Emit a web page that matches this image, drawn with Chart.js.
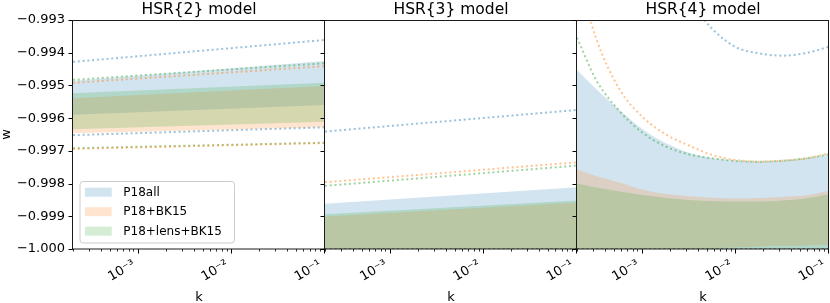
<!DOCTYPE html>
<html>
<head>
<meta charset="utf-8">
<script src="https://cdn.jsdelivr.net/npm/chart.js@4.4.1/dist/chart.umd.min.js"></script>
<style>
  html, body { margin: 0; padding: 0; background: #ffffff; }
  #wrap { position: relative; width: 830px; height: 303px; overflow: hidden; }
  #wrap canvas { position: absolute; left: 0; top: 0; }
</style>
</head>
<body>
<div id="wrap">
  <canvas id="c1" width="830" height="303"></canvas>
  <canvas id="c2" width="830" height="303"></canvas>
  <canvas id="c3" width="830" height="303"></canvas>
</div>
<script>
// ---------------- data ----------------
const seriesNames = ['P18all', 'P18+BK15', 'P18+lens+BK15'];
const seriesRGB = ['31,119,180', '255,127,14', '44,160,44'];
const panelTitles = ['HSR{2} model', 'HSR{3} model', 'HSR{4} model'];

const K_MIN = 1.97e-4, K_MAX = 0.1;
const W_MIN = -1.000, W_MAX = -0.993;

const yTickValues = [-1.000, -0.999, -0.998, -0.997, -0.996, -0.995, -0.994, -0.993];
const yTickLabels = ['\u22121.000', '\u22120.999', '\u22120.998', '\u22120.997', '\u22120.996', '\u22120.995', '\u22120.994', '\u22120.993'];
const xMajorTicks = [1e-3, 1e-2, 1e-1];
const xTickLabels = ['10\u207B\u00B3', '10\u207B\u00B2', '10\u207B\u00B9'];
const xMinorTicks = [2e-4, 3e-4, 4e-4, 5e-4, 6e-4, 7e-4, 8e-4, 9e-4,
                     2e-3, 3e-3, 4e-3, 5e-3, 6e-3, 7e-3, 8e-3, 9e-3,
                     2e-2, 3e-2, 4e-2, 5e-2, 6e-2, 7e-2, 8e-2, 9e-2];

// HSR{2} : straight lines in log k (values at both ends of the k range)
const kHsr2 = [1.97e-4, 0.1];
const hsr2AllLow   = [-0.99590, -0.99560];
const hsr2AllHigh  = [-0.99486, -0.99425];
const hsr2BkLow    = [-0.99646, -0.99628];
const hsr2BkHigh   = [-0.99539, -0.99502];
const hsr2LensLow  = [-0.99634, -0.99611];
const hsr2LensHigh = [-0.99524, -0.99492];
const hsr2AllDotLow   = [-0.99652, -0.99628];
const hsr2AllDotHigh  = [-0.99428, -0.99361];
const hsr2BkDotLow    = [-0.99694, -0.99676];
const hsr2BkDotHigh   = [-0.99492, -0.99441];
const hsr2LensDotLow  = [-0.99692, -0.99675];
const hsr2LensDotHigh = [-0.99483, -0.99432];

// HSR{3}
const kHsr3 = [1.97e-4, 0.1];
const hsr3AllLow   = [-1.000, -1.000];
const hsr3AllHigh  = [-0.99862, -0.99811];
const hsr3BkLow    = [-1.000, -1.000];
const hsr3BkHigh   = [-0.99901, -0.99858];
const hsr3LensLow  = [-1.000, -1.000];
const hsr3LensHigh = [-0.99894, -0.99852];
const hsr3AllDotLow   = [-1.000, -1.000];
const hsr3AllDotHigh  = [-0.99641, -0.99575];
const hsr3BkDotLow    = [-1.000, -1.000];
const hsr3BkDotHigh   = [-0.99796, -0.99735];
const hsr3LensDotLow  = [-1.000, -1.000];
const hsr3LensDotHigh = [-0.99807, -0.99745];

// HSR{4}
const kHsr4 = [1.97e-4, 3.16e-4, 5.62e-4, 1.0e-3, 1.78e-3, 3.16e-3, 5.62e-3, 1.0e-2, 1.78e-2, 3.16e-2, 5.62e-2, 1.0e-1];
const hsr4AllLow   = [-1.000, -1.000, -1.000, -1.000, -1.000, -1.000, -1.000, -1.000, -1.000, -1.000, -1.000, -1.000];
const hsr4AllHigh  = [-0.99453, -0.99511, -0.99575, -0.99634, -0.99677, -0.99706, -0.99722, -0.99730, -0.99733, -0.99730, -0.99723, -0.99713];
const hsr4BkLow    = [-1.000, -1.000, -1.000, -1.000, -1.000, -1.000, -0.99999, -0.99995, -0.99992, -0.99990, -0.99989, -0.99987];
const hsr4BkHigh   = [-0.99756, -0.99777, -0.99797, -0.99819, -0.99832, -0.99839, -0.99843, -0.99845, -0.99844, -0.99841, -0.99836, -0.99822];
const hsr4LensLow  = [-1.000, -1.000, -1.000, -1.000, -1.000, -1.000, -1.000, -1.000, -1.000, -1.000, -1.000, -1.000];
const hsr4LensHigh = [-0.99800, -0.99812, -0.99824, -0.99835, -0.99844, -0.99850, -0.99854, -0.99855, -0.99855, -0.99852, -0.99846, -0.99833];
const hsr4AllDotLow   = [-1.000, -1.000, -1.000, -1.000, -1.000, -1.000, -1.000, -1.000, -1.000, -1.000, -1.000, -1.000];
const hsr4AllDotHigh  = [-0.9858, -0.9872, -0.9888, -0.9902, -0.9914, -0.9924, -0.99328, -0.99383, -0.99402, -0.99409, -0.99401, -0.99382];
const hsr4BkDotLow    = [-1.000, -1.000, -1.000, -1.000, -1.000, -1.000, -1.000, -1.000, -1.000, -1.000, -1.000, -1.000];
const hsr4BkDotHigh   = [-0.9915, -0.99356, -0.99511, -0.99597, -0.99650, -0.99684, -0.99713, -0.99728, -0.99733, -0.99730, -0.99723, -0.99708];
const hsr4LensDotLow  = [-1.000, -1.000, -1.000, -1.000, -1.000, -1.000, -1.000, -1.000, -1.000, -1.000, -1.000, -1.000];
const hsr4LensDotHigh = [-0.99354, -0.99483, -0.99578, -0.99645, -0.99687, -0.99711, -0.99723, -0.99731, -0.99733, -0.99730, -0.99723, -0.99711];

// ---------------- helpers ----------------
const FONT = '"DejaVu Sans", "Liberation Sans", sans-serif';
function rgba(i, a) { return 'rgba(' + seriesRGB[i] + ',' + a + ')'; }
function pts(ks, ws) { return ks.map((k, i) => ({ x: k, y: ws[i] })); }

function panelDatasets(ks, bands, dots, smooth) {
  const mode = smooth ? 'monotone' : 'default';
  const ds = [];
  bands.forEach((b, s) => {
    ds.push({ label: seriesNames[s] + ' low', data: pts(ks, b[0]), borderColor: 'rgba(0,0,0,0)', borderWidth: 1,
              pointRadius: 0, fill: false, order: 30 - 10 * s, cubicInterpolationMode: mode });
    ds.push({ label: seriesNames[s], data: pts(ks, b[1]), borderColor: 'rgba(0,0,0,0)', borderWidth: 1,
              backgroundColor: rgba(s, 0.2), pointRadius: 0, fill: '-1', order: 30 - 10 * s, cubicInterpolationMode: mode });
  });
  dots.forEach((d, s) => {
    d.forEach(arr => {
      ds.push({ label: seriesNames[s] + ' 95%', data: pts(ks, arr), borderColor: rgba(s, 0.45), borderWidth: 2,
                borderDash: [2, 2.8], borderCapStyle: 'butt', pointRadius: 0, fill: false, order: 0,
                cubicInterpolationMode: mode });
    });
  });
  return ds;
}

const framePlugin = {
  id: 'frame',
  afterDraw(chart, args, opts) {
    const { ctx, chartArea: a } = chart;
    const x = chart.scales.x, y = chart.scales.y;
    ctx.save();
    ctx.strokeStyle = '#000';
    ctx.lineWidth = 1;
    ctx.beginPath();
    yTickValues.forEach(v => {
      const py = Math.round(y.getPixelForValue(v)) + 0.5;
      ctx.moveTo(a.left - 4.5, py); ctx.lineTo(a.left, py);
    });
    xMajorTicks.forEach(v => {
      const px = Math.round(x.getPixelForValue(v)) - 0.5;
      ctx.moveTo(px, a.bottom); ctx.lineTo(px, a.bottom + 4.5);
    });
    ctx.stroke();
    ctx.lineWidth = 0.8;
    ctx.beginPath();
    xMinorTicks.forEach(v => {
      const px = Math.round(x.getPixelForValue(v)) - 0.5;
      ctx.moveTo(px, a.bottom); ctx.lineTo(px, a.bottom + 2.6);
    });
    ctx.stroke();
    ctx.lineWidth = 1;
    ctx.strokeStyle = '#1a1a1a';
    ctx.strokeRect(a.left - 0.5, a.top + 0.5, a.right - a.left, a.bottom - a.top - 0.5);
    ctx.fillStyle = '#000';
    ctx.font = '15.5px ' + FONT;
    ctx.textAlign = 'center';
    ctx.textBaseline = 'alphabetic';
    ctx.fillText(opts.title, (a.left + a.right) / 2, a.top - 6.5);
    ctx.restore();
  }
};

const legendPlugin = {
  id: 'boxLegend',
  afterDraw(chart, args, opts) {
    if (!opts.show) return;
    const { ctx, chartArea: a } = chart;
    const x0 = a.left + 7, y0 = a.bottom - 67.5, w = 154.5, h = 61.5, r = 3;
    ctx.save();
    ctx.beginPath();
    ctx.moveTo(x0 + r, y0);
    ctx.arcTo(x0 + w, y0, x0 + w, y0 + h, r);
    ctx.arcTo(x0 + w, y0 + h, x0, y0 + h, r);
    ctx.arcTo(x0, y0 + h, x0, y0, r);
    ctx.arcTo(x0, y0, x0 + w, y0, r);
    ctx.closePath();
    ctx.fillStyle = 'rgba(255,255,255,0.8)';
    ctx.fill();
    ctx.strokeStyle = '#cccccc';
    ctx.lineWidth = 1;
    ctx.stroke();
    ctx.font = '12px ' + FONT;
    ctx.textAlign = 'left';
    ctx.textBaseline = 'middle';
    seriesNames.forEach((name, i) => {
      const cy = y0 + 10.7 + i * 19.5;
      ctx.fillStyle = rgba(i, 0.2);
      ctx.fillRect(x0 + 5, cy - 4.5, 26.7, 9);
      ctx.fillStyle = '#000';
      ctx.fillText(name, x0 + 43.3, cy + 0.5);
    });
    ctx.restore();
  }
};

function makePanel(id, idx, ks, bands, dots, smooth, padLeft, padRight, showY) {
  return new Chart(document.getElementById(id), {
    type: 'line',
    data: { datasets: panelDatasets(ks, bands, dots, smooth) },
    plugins: [framePlugin, legendPlugin],
    options: {
      responsive: false,
      animation: false,
      devicePixelRatio: 1,
      events: [],
      layout: { padding: { left: padLeft, right: padRight, top: 20, bottom: 0 } },
      scales: {
        x: {
          type: 'logarithmic',
          min: K_MIN, max: K_MAX,
          afterBuildTicks: s => { s.ticks = xMajorTicks.map(v => ({ value: v, major: true })); },
          afterFit: s => { s.height = 54; s.paddingLeft = 0; s.paddingRight = 0; },
          grid: { display: false, drawTicks: false },
          border: { display: false },
          ticks: {
            autoSkip: false, minRotation: 30, maxRotation: 30, padding: 8, labelOffset: -4.5,
            color: '#000', font: { family: FONT, size: 13 },
            callback: (v, i) => xTickLabels[i]
          },
          title: { display: true, text: 'k', color: '#000', font: { family: FONT, size: 13, lineHeight: 0.8 }, padding: 0 }
        },
        y: {
          display: showY,
          min: W_MIN, max: W_MAX,
          afterBuildTicks: s => { s.ticks = yTickValues.map(v => ({ value: v })); },
          afterFit: s => { s.width = showY ? 73 : 0; s.paddingTop = 0; s.paddingBottom = 0; },
          grid: { display: false, drawTicks: false },
          border: { display: false },
          ticks: {
            autoSkip: false, padding: 8, color: '#000', font: { family: FONT, size: 13 },
            callback: (v, i) => yTickLabels[i]
          },
          title: { display: true, text: 'w', color: '#000', font: { family: FONT, size: 13, lineHeight: 1 }, padding: 0 }
        }
      },
      plugins: {
        legend: { display: false },
        tooltip: { enabled: false },
        frame: { title: panelTitles[idx] },
        boxLegend: { show: idx === 0 }
      }
    }
  });
}

makePanel('c1', 0, kHsr2,
  [[hsr2AllLow, hsr2AllHigh], [hsr2BkLow, hsr2BkHigh], [hsr2LensLow, hsr2LensHigh]],
  [[hsr2AllDotLow, hsr2AllDotHigh], [hsr2BkDotLow, hsr2BkDotHigh], [hsr2LensDotLow, hsr2LensDotHigh]],
  false, 0, 830 - 325, true);
makePanel('c2', 1, kHsr3,
  [[hsr3AllLow, hsr3AllHigh], [hsr3BkLow, hsr3BkHigh], [hsr3LensLow, hsr3LensHigh]],
  [[hsr3AllDotLow, hsr3AllDotHigh], [hsr3BkDotLow, hsr3BkDotHigh], [hsr3LensDotLow, hsr3LensDotHigh]],
  false, 325, 830 - 577, false);
makePanel('c3', 2, kHsr4,
  [[hsr4AllLow, hsr4AllHigh], [hsr4BkLow, hsr4BkHigh], [hsr4LensLow, hsr4LensHigh]],
  [[hsr4AllDotLow, hsr4AllDotHigh], [hsr4BkDotLow, hsr4BkDotHigh], [hsr4LensDotLow, hsr4LensDotHigh]],
  true, 577, 830 - 829, false);
</script>
</body>
</html>
